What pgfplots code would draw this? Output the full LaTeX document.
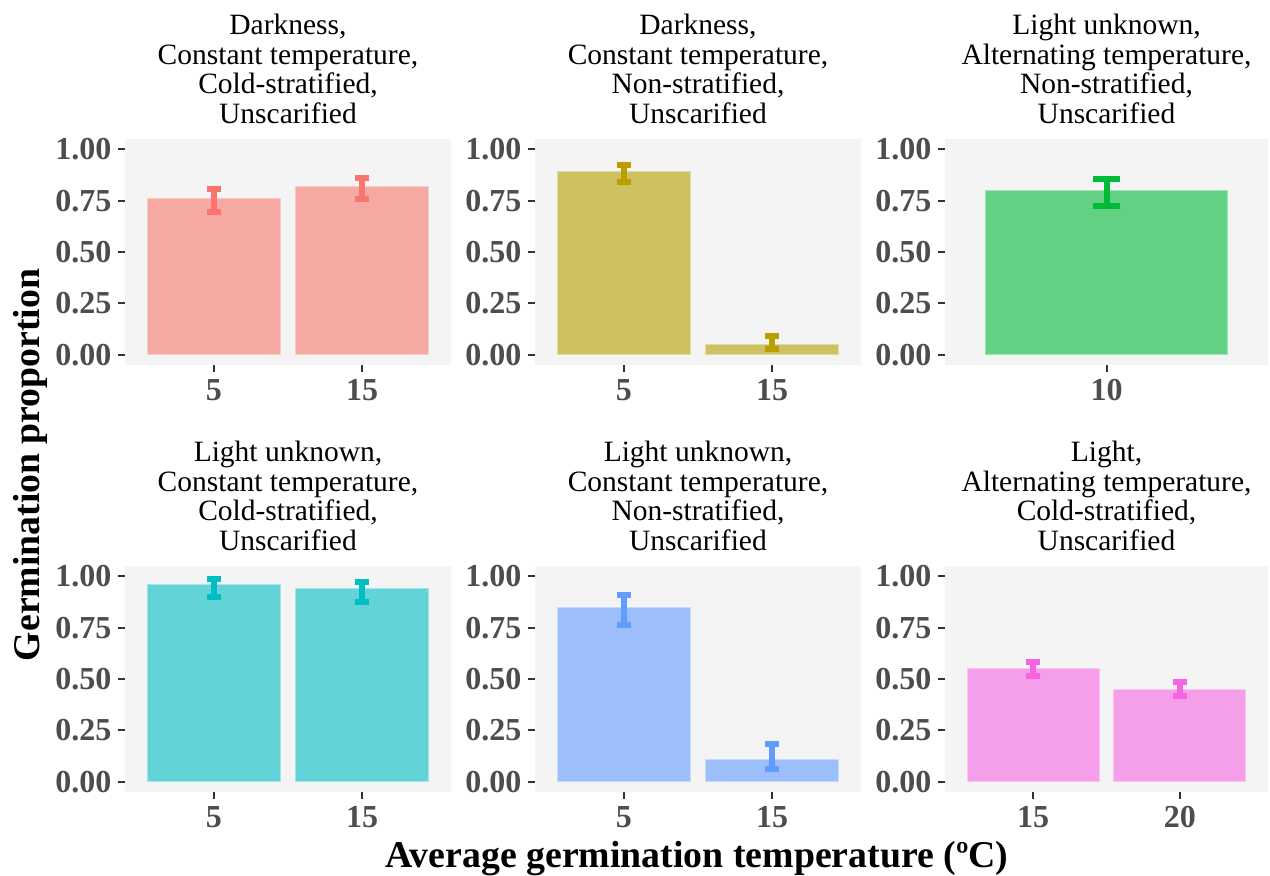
\documentclass[border=0pt]{standalone}
\usepackage{fontspec}
\setmainfont{Liberation Serif}
\usepackage{pgfplots}
\pgfplotsset{compat=1.18}

% ggplot hue colours, bars at alpha .6 over the grey panel
\definecolor{c1}{HTML}{F8766D}\definecolor{b1}{HTML}{F6A8A3}
\definecolor{c2}{HTML}{B79F00}\definecolor{b2}{HTML}{CFC162}
\definecolor{c3}{HTML}{00BA38}\definecolor{b3}{HTML}{62D183}
\definecolor{c4}{HTML}{00BFC4}\definecolor{b4}{HTML}{62D4D7}
\definecolor{c5}{HTML}{619CFF}\definecolor{b5}{HTML}{9CBFFB}
\definecolor{c6}{HTML}{F564E3}\definecolor{b6}{HTML}{F59EEA}
\definecolor{panelbg}{HTML}{F4F4F4}
\definecolor{tickgray}{HTML}{333333}
\definecolor{labgray}{HTML}{4D4D4D}

\pgfplotsset{
  panel/.style={
    scale only axis, width=326pt, height=226pt, anchor=south west,
    axis background/.style={fill=panelbg},
    axis line style={draw=none},
    ymin=-0.05, ymax=1.05, xmin=0.4, xmax=2.6,
    ytick={0,0.25,0.5,0.75,1},
    xtick={1,2},
    /pgf/number format/assume math mode=true,
    tick pos=left, tick align=outside,
    major tick length=7pt,
    tick style={draw=tickgray, line width=2pt},
    ticklabel style={font=\fontsize{32}{32}\selectfont\bfseries, text=labgray},
    yticklabel style={xshift=-3pt, /pgf/number format/.cd, fixed, fixed zerofill, precision=2},
    xticklabel style={yshift=-4pt},
    ybar, bar width=0.9,
    title style={at={(0.5,1)}, anchor=south, yshift=9pt, inner sep=0pt,
      align=center, font=\fontsize{29.5}{29.6}\selectfont},
  },
  bars/.style n args={3}{
    fill=#1, draw=#1!60!white, line width=1pt,
    error bars/.cd, y dir=both, y explicit,
    error bar style={draw=#2, line width=6pt},
    error mark options={rotate=90, draw=#2, line width=6pt, mark size=#3},
  },
}

\begin{document}
\begin{tikzpicture}
\path[use as bounding box] (0,0) rectangle (1270pt,876pt);

% top row
\begin{axis}[panel, at={(125pt,511pt)}, xticklabels={5,15},
  title={Darkness,\\Constant temperature,\\Cold-stratified,\\Unscarified}]
\addplot[bars={b1}{c1}{7.4pt}] table[y error plus=ep, y error minus=em] {
x y ep em
1 0.76 0.048 0.064
2 0.82 0.040 0.060
};
\end{axis}

\begin{axis}[panel, at={(535pt,511pt)}, xticklabels={5,15},
  title={Darkness,\\Constant temperature,\\Non-stratified,\\Unscarified}]
\addplot[bars={b2}{c2}{7.4pt}] table[y error plus=ep, y error minus=em] {
x y ep em
1 0.89 0.033 0.050
2 0.05 0.040 0.024
};
\end{axis}

\begin{axis}[panel, at={(945pt,511pt)}, width=323pt, xmin=0.4, xmax=1.6,
  xtick={1}, xticklabels={10},
  title={Light unknown,\\Alternating temperature,\\Non-stratified,\\Unscarified}]
\addplot[bars={b3}{c3}{13.5pt}] table[y error plus=ep, y error minus=em] {
x y ep em
1 0.80 0.054 0.075
};
\end{axis}

% bottom row
\begin{axis}[panel, at={(125pt,84pt)}, xticklabels={5,15},
  title={Light unknown,\\Constant temperature,\\Cold-stratified,\\Unscarified}]
\addplot[bars={b4}{c4}{7.4pt}] table[y error plus=ep, y error minus=em] {
x y ep em
1 0.96 0.025 0.060
2 0.94 0.032 0.065
};
\end{axis}

\begin{axis}[panel, at={(535pt,84pt)}, xticklabels={5,15},
  title={Light unknown,\\Constant temperature,\\Non-stratified,\\Unscarified}]
\addplot[bars={b5}{c5}{7.4pt}] table[y error plus=ep, y error minus=em] {
x y ep em
1 0.85 0.058 0.088
2 0.11 0.075 0.050
};
\end{axis}

\begin{axis}[panel, at={(945pt,84pt)}, width=323pt, xticklabels={15,20},
  title={Light,\\Alternating temperature,\\Cold-stratified,\\Unscarified}]
\addplot[bars={b6}{c6}{7.4pt}] table[y error plus=ep, y error minus=em] {
x y ep em
1 0.55 0.034 0.035
2 0.45 0.033 0.032
};
\end{axis}

\node[rotate=90, font=\fontsize{37.7}{37.7}\selectfont\bfseries] at (30pt,411pt) {Germination proportion};
\node[font=\fontsize{37.8}{37.8}\selectfont\bfseries] at (697pt,17pt) {Average germination temperature (ºC)};
\end{tikzpicture}
\end{document}
